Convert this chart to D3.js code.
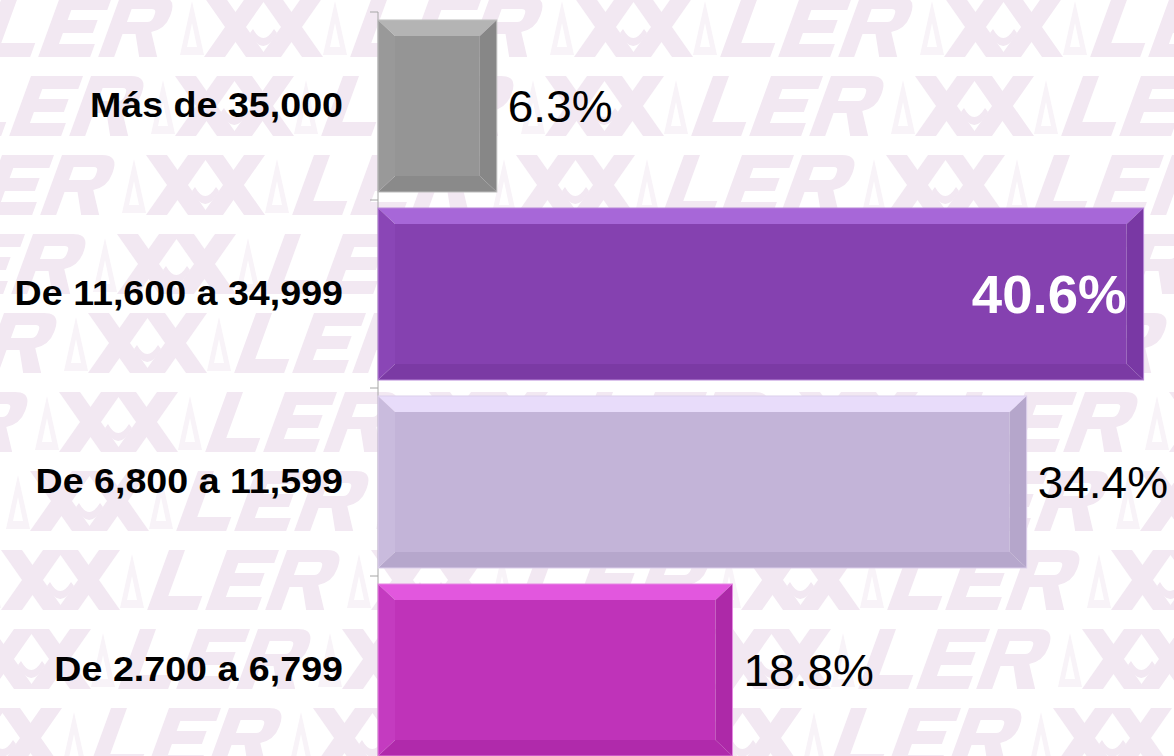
<!DOCTYPE html>
<html>
<head>
<meta charset="utf-8">
<script src="https://cdn.jsdelivr.net/npm/d3@7"></script>
<style>
  html, body { margin: 0; padding: 0; background: #ffffff; }
  svg { display: block; }
</style>
</head>
<body>
<svg id="chart" width="1174" height="756"></svg>
<script>
// ---------- data ----------
const categories = ["Más de 35,000", "De 11,600 a 34,999", "De 6,800 a 11,599", "De 2.700 a 6,799"];
const values = [6.3, 40.6, 34.4, 18.8];
const valueLabels = ["6.3%", "40.6%", "34.4%", "18.8%"];
const insideLabel = [false, true, false, false];
const barColors = [
  { main: "#959595", top: "#b4b4b4", left: "#999999", right: "#878787", bottom: "#8a8a8a", edge: "#bdbdbd" },
  { main: "#8541b0", top: "#a767d8", left: "#8a46b6", right: "#7938a4", bottom: "#7b3aa4", edge: "#b98ad9" },
  { main: "#c3b4d8", top: "#e8dcfa", left: "#c9bbdd", right: "#b5a6cb", bottom: "#b6a7cc", edge: "#ddd0ec" },
  { main: "#bf33b9", top: "#e257de", left: "#c43bc0", right: "#ad29a8", bottom: "#b02aab", edge: "#e58ae2" }
];

const W = 1174, H = 756;
const svg = d3.select("#chart");

// ---------- watermark background ----------
const wm = svg.append("g").attr("class", "watermark");
const wmColor = "#f2e8f2", wmLight = "#f8f3f8";
const glyphL = "M0,0 H16 V46 H50 V60 H0 Z";
const glyphE = "M0,0 H52 V13 H16 V23 H46 V36 H16 V47 H52 V60 H0 Z";
const glyphR = "M0,0 H40 Q57,0 57,17 V19 Q57,32 44,35 L59,60 H41 L29,37 H16 V60 H0 Z M16,12 H36 Q41,12 41,17 V20 Q41,25 36,25 H16 Z";
const logo = [
  "M0,0 H21 L63,60 H42 Z",
  "M56,0 H77 L119,60 H98 Z",
  "M42,0 H63 L21,60 H0 Z",
  "M98,0 H119 L77,60 H56 Z",
  "M46,36 Q59,62 73,36 L70,32 Q59,50 49,32 Z"
];
const tri = "M0,58 L12,4 L24,58 Z M7,50 L12,26 L17,50 Z";
for (let r = 0; r < 11; r++) {
  const ry = -3 + 79 * r;
  const rx = -20 - 29 * r;
  for (let k = -1; k < 5; k++) {
    const tx = rx + k * 370;
    const g = wm.append("g").attr("transform", `translate(${tx},${ry})`);
    const it = g.append("g").attr("transform", "translate(22,0) skewX(-20)");
    it.append("path").attr("d", glyphL).attr("fill", wmColor);
    it.append("path").attr("d", glyphE).attr("transform", "translate(58,0)").attr("fill", wmColor);
    it.append("path").attr("d", glyphR).attr("transform", "translate(118,0)").attr("fill", wmColor).attr("fill-rule", "evenodd");
    g.append("path").attr("d", tri).attr("transform", "translate(200,0)").attr("fill", wmLight).attr("fill-rule", "evenodd");
    const lg = g.append("g").attr("transform", "translate(224,0)");
    logo.forEach(d => lg.append("path").attr("d", d).attr("fill", wmColor));
    g.append("path").attr("d", tri).attr("transform", "translate(343,0)").attr("fill", wmLight).attr("fill-rule", "evenodd");
  }
}

// ---------- scales ----------
const x = d3.scaleLinear().domain([0, 42]).range([378, 1170]);
const y = d3.scaleBand().domain(categories).range([12, 764]).paddingInner(0.085).paddingOuter(0.0425);

// ---------- axis ----------
const axisG = svg.append("g").attr("transform", `translate(${x(0)},0)`);
const yAxis = d3.axisLeft(y).tickSize(0).tickFormat("");
axisG.call(yAxis);
axisG.select(".domain").remove();
axisG.append("line").attr("x1", 0).attr("x2", 0).attr("y1", 12).attr("y2", H)
  .attr("stroke", "#a6a6a6").attr("stroke-width", 1);
const bounds = categories.map(c => y(c) - y.step() * y.paddingInner() / 2);
axisG.selectAll("line.tk").data(bounds).join("line").attr("class", "tk")
  .attr("x1", -8).attr("x2", 0).attr("y1", d => d).attr("y2", d => d)
  .attr("stroke", "#a6a6a6").attr("stroke-width", 1);

// ---------- bars (bevelled) ----------
const bx = 17, by = 16;
const data = categories.map((c, i) => ({ c, v: values[i], lab: valueLabels[i], inside: insideLabel[i], col: barColors[i] }));
const bars = svg.append("g").selectAll("g.bar").data(data).join("g").attr("class", "bar");
bars.each(function (d) {
  const g = d3.select(this);
  const x0 = x(0), x1 = x(d.v), y0 = y(d.c), y1 = y(d.c) + y.bandwidth();
  const poly = pts => "M" + pts.map(p => p.join(",")).join("L") + "Z";
  g.append("path").attr("d", poly([[x0 + bx, y0 + by], [x1 - bx, y0 + by], [x1 - bx, y1 - by], [x0 + bx, y1 - by]])).attr("fill", d.col.main);
  g.append("path").attr("d", poly([[x0, y0], [x1, y0], [x1 - bx, y0 + by], [x0 + bx, y0 + by]])).attr("fill", d.col.top);
  g.append("path").attr("d", poly([[x0, y1], [x1, y1], [x1 - bx, y1 - by], [x0 + bx, y1 - by]])).attr("fill", d.col.bottom);
  g.append("path").attr("d", poly([[x0, y0], [x0 + bx, y0 + by], [x0 + bx, y1 - by], [x0, y1]])).attr("fill", d.col.left);
  g.append("path").attr("d", poly([[x1, y0], [x1 - bx, y0 + by], [x1 - bx, y1 - by], [x1, y1]])).attr("fill", d.col.right);
  g.append("rect").attr("x", x0).attr("y", y0).attr("width", x1 - x0).attr("height", y1 - y0)
    .attr("fill", "none").attr("stroke", d.col.edge).attr("stroke-width", 1);
});

// ---------- category labels ----------
svg.append("g").selectAll("text.cat").data(categories).join("text").attr("class", "cat")
  .attr("transform", c => `translate(343,${y(c) + y.bandwidth() / 2 + 11}) scale(1.075,1)`)
  .attr("text-anchor", "end")
  .attr("font-family", "'Liberation Sans', Arial, sans-serif")
  .attr("font-weight", "bold").attr("font-size", 35).attr("fill", "#000")
  .text(c => c);

// ---------- value labels ----------
svg.append("g").selectAll("text.val").data(data).join("text").attr("class", "val")
  .attr("transform", d => {
    const cy = y(d.c) + y.bandwidth() / 2;
    if (d.inside) return `translate(${x(d.v) - 17},${cy + 19}) scale(1.03,1)`;
    return `translate(${x(d.v) + 11},${cy + 16}) scale(1.045,1)`;
  })
  .attr("text-anchor", d => d.inside ? "end" : "start")
  .attr("font-family", "'Liberation Sans', Arial, sans-serif")
  .attr("font-weight", d => d.inside ? "bold" : "normal")
  .attr("font-size", d => d.inside ? 53 : 44)
  .attr("fill", d => d.inside ? "#ffffff" : "#000000")
  .text(d => d.lab);
</script>
</body>
</html>
